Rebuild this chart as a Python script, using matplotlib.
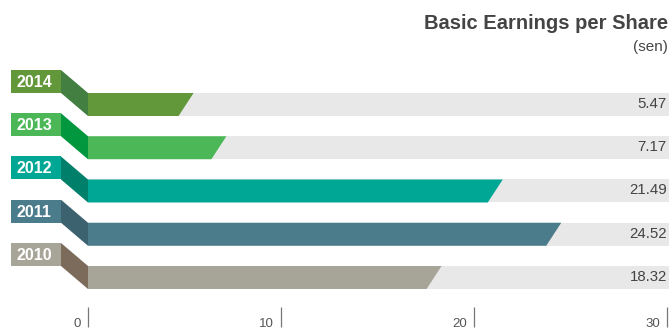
import matplotlib
matplotlib.use("Agg")
import matplotlib.pyplot as plt
from matplotlib.patches import Polygon, Rectangle

plt.rcParams['font.family'] = ['Liberation Sans', 'DejaVu Sans']

# Data
years = ["2014", "2013", "2012", "2011", "2010"]
eps = [5.47, 7.17, 21.49, 24.52, 18.32]
value_labels = ["5.47", "7.17", "21.49", "24.52", "18.32"]
ticks = [0, 10, 20, 30]
tick_labels = ["0", "10", "20", "30"]

bar_colors = ["#62973a", "#4cb757", "#00a794", "#4a7c8c", "#a7a498"]
side_colors = ["#447f42", "#00973f", "#00806a", "#3c6270", "#7c6a5a"]
track_color = "#e8e8e8"

W, H = 672, 331
fig = plt.figure(figsize=(W / 100, H / 100), dpi=100)
ax = fig.add_axes([0, 0, 1, 1])

px_per_unit = (667 - 88) / 30.0
x_left = -88 / px_per_unit
x_right = (W - 88) / px_per_unit
row_px = 43.25
y_top = -104.5 / row_px
y_bot = (H - 104.5) / row_px
ax.set_xlim(x_left, x_right)
ax.set_ylim(y_bot, y_top)
ax.axis("off")

ux = 1 / px_per_unit   # one pixel in x data units
uy = 1 / row_px        # one pixel in y data units

bar_h = 23 * uy
slant = 15 * ux
track_end = (669 - 88) * ux
box_left = (11 - 88) * ux
box_right = (61 - 88) * ux

for i, (yr, v, lab, c, sc) in enumerate(zip(years, eps, value_labels, bar_colors, side_colors)):
    top = i - bar_h / 2
    bot = i + bar_h / 2
    # background track
    ax.add_patch(Rectangle((0, top), track_end, bar_h, color=track_color, lw=0))
    # value bar with slanted end
    ax.add_patch(Polygon([(0, top), (v, top), (v - slant, bot), (0, bot)],
                         closed=True, color=c, lw=0))
    # year tag, shifted up by one bar height
    ax.add_patch(Rectangle((box_left, top - bar_h), box_right - box_left, bar_h,
                           color=c, lw=0))
    # fold joining tag and bar
    ax.add_patch(Polygon([(box_right, top - bar_h), (0, top), (0, bot), (box_right, top)],
                         closed=True, color=sc, lw=0))
    ax.text(box_left + 5.5 * ux, top - bar_h / 2 + 5.5 * uy, yr, color="white",
            fontsize=11.5, fontweight="bold", ha="left", va="baseline")
    ax.text(track_end - 2 * ux, i + 3.5 * uy, lab, color="#444444",
            fontsize=10.8, ha="right", va="baseline")

# axis ticks
tick_top = (307 - 104.5) * uy
tick_bot = (327 - 104.5) * uy
for t, tl in zip(ticks, tick_labels):
    ax.plot([t, t], [tick_top, tick_bot], color="#777777", lw=0.9, solid_capstyle="butt")
    ax.text(t - 7 * ux, tick_bot, tl, color="#555555", fontsize=9.5,
            ha="right", va="baseline")

# title
ax.text(668 / W, 1 - 29 / H, "Basic Earnings per Share", transform=ax.transAxes,
        ha="right", va="baseline", fontsize=14.5, fontweight="bold", color="#444444")
ax.text(668 / W, 1 - 51 / H, "(sen)", transform=ax.transAxes,
        ha="right", va="baseline", fontsize=11, color="#444444")

fig.savefig("out.png", dpi=100)
